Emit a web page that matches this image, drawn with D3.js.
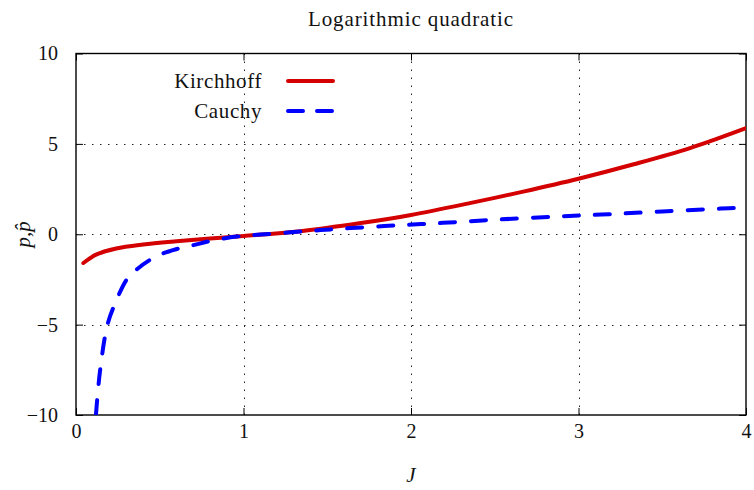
<!DOCTYPE html>
<html>
<head>
<meta charset="utf-8">
<script src="https://cdn.jsdelivr.net/npm/d3@7"></script>
<style>
  html, body { margin: 0; padding: 0; background: #fff; }
  svg { display: block; }
  text { font-family: "Liberation Serif", "DejaVu Serif", serif; fill: #111; }
</style>
</head>
<body>
<div id="chart"></div>
<script>
// values
const xTicks = [0, 1, 2, 3, 4];
const yTicks = [-10, -5, 0, 5, 10];
const gridX = [1, 2, 3];
const gridY = [-5, 0, 5];

const jKirchhoff = [0.044, 0.12, 0.24, 0.4, 0.6, 0.8, 1.0, 1.34, 1.7, 2.0, 2.33, 2.67, 3.0, 3.33, 3.67, 4.0];
const pKirchhoff = [-1.59, -1.13, -0.79, -0.57, -0.39, -0.24, -0.1, 0.17, 0.62, 1.07, 1.68, 2.36, 3.07, 3.87, 4.78, 5.87];

const jCauchy = [0.119, 0.143, 0.187, 0.233, 0.303, 0.358, 0.438, 0.517, 0.597, 0.697, 0.8, 0.96, 1.1, 1.28, 1.46, 1.64, 1.84, 2.01, 2.19, 2.51, 2.87, 3.18, 3.5, 3.85, 4.0];
const pCauchy = [-10, -7.6, -5.04, -3.84, -2.5, -1.98, -1.44, -1.07, -0.83, -0.61, -0.38, -0.13, -0.02, 0.11, 0.23, 0.34, 0.45, 0.54, 0.63, 0.81, 0.98, 1.11, 1.26, 1.42, 1.48];

const series = [
  { name: 'Kirchhoff', xs: jKirchhoff, ys: pKirchhoff, color: '#d40000', dash: null },
  { name: 'Cauchy', xs: jCauchy, ys: pCauchy, color: '#0000ff', dash: '15 16' }
];

const width = 754, height = 490;
const margin = { top: 53.5, right: 8, bottom: 75, left: 76 };

const svg = d3.select('#chart').append('svg')
  .attr('width', width)
  .attr('height', height);

const x = d3.scaleLinear().domain([0, 4]).range([margin.left, width - margin.right]);
const y = d3.scaleLinear().domain([-10, 10]).range([height - margin.bottom, margin.top]);

const x0 = x.range()[0], x1 = x.range()[1];
const y0 = y.range()[1], y1 = y.range()[0];

svg.append('defs').append('clipPath').attr('id', 'plotClip')
  .append('rect')
  .attr('x', x0).attr('y', y0)
  .attr('width', x1 - x0).attr('height', y1 - y0);

// grid
const grid = svg.append('g')
  .attr('stroke', '#222')
  .attr('stroke-width', 1)
  .attr('stroke-dasharray', '1.5 6.5');

grid.selectAll('line.gx')
  .data(gridX)
  .join('line')
  .attr('class', 'gx')
  .attr('x1', d => Math.round(x(d)) + 0.5).attr('x2', d => Math.round(x(d)) + 0.5)
  .attr('y1', y0).attr('y2', y1);

grid.selectAll('line.gy')
  .data(gridY)
  .join('line')
  .attr('class', 'gy')
  .attr('y1', d => Math.round(y(d)) + 0.5).attr('y2', d => Math.round(y(d)) + 0.5)
  .attr('x1', x0).attr('x2', x1);

// axes (inward ticks, mirrored)
const tickLen = 7;
const fmt = d => d < 0 ? '\u2212' + Math.abs(d) : String(d);

svg.append('g')
  .attr('transform', `translate(0,${y1})`)
  .call(d3.axisBottom(x).tickValues(xTicks).tickSize(-tickLen).tickPadding(9).tickFormat(fmt))
  .call(g => g.select('.domain').remove())
  .call(g => g.selectAll('text').attr('font-size', 20).attr('font-family', null));

svg.append('g')
  .attr('transform', `translate(0,${y0})`)
  .call(d3.axisTop(x).tickValues(xTicks).tickSize(-tickLen).tickFormat(''))
  .call(g => g.select('.domain').remove());

svg.append('g')
  .attr('transform', `translate(${x0},0)`)
  .call(d3.axisLeft(y).tickValues(yTicks).tickSize(-tickLen).tickPadding(18).tickFormat(fmt))
  .call(g => g.select('.domain').remove())
  .call(g => g.selectAll('text').attr('font-size', 20).attr('font-family', null));

svg.append('g')
  .attr('transform', `translate(${x1},0)`)
  .call(d3.axisRight(y).tickValues(yTicks).tickSize(-tickLen).tickFormat(''))
  .call(g => g.select('.domain').remove());

svg.append('rect')
  .attr('x', x0).attr('y', y0)
  .attr('width', x1 - x0).attr('height', y1 - y0)
  .attr('fill', 'none')
  .attr('stroke', '#000')
  .attr('stroke-width', 1.4);

// curves
const line = d3.line()
  .x(d => x(d[0]))
  .y(d => y(d[1]))
  .curve(d3.curveCatmullRom.alpha(0.5));

svg.append('g')
  .attr('clip-path', 'url(#plotClip)')
  .selectAll('path')
  .data(series)
  .join('path')
  .attr('d', s => line(s.xs.map((v, i) => [v, s.ys[i]])))
  .attr('fill', 'none')
  .attr('stroke', s => s.color)
  .attr('stroke-width', 4)
  .attr('stroke-linecap', 'round')
  .attr('stroke-dasharray', s => s.dash);

// legend
const legend = svg.append('g');
series.forEach((s, i) => {
  const ly = 81 + i * 30;
  legend.append('text')
    .attr('x', 262).attr('y', ly)
    .attr('dy', '0.33em')
    .attr('text-anchor', 'end')
    .attr('font-size', 21)
    .attr('letter-spacing', 0.6)
    .text(s.name);
  legend.append('line')
    .attr('x1', 288).attr('x2', 333)
    .attr('y1', ly).attr('y2', ly)
    .attr('stroke', s.color)
    .attr('stroke-width', 4)
    .attr('stroke-linecap', 'round')
    .attr('stroke-dasharray', s.dash ? '15 14' : null);
});

// titles
svg.append('text')
  .attr('x', (x0 + x1) / 2).attr('y', 26)
  .attr('text-anchor', 'middle')
  .attr('font-size', 21)
  .attr('letter-spacing', 0.9)
  .text('Logarithmic quadratic');

svg.append('text')
  .attr('x', (x0 + x1) / 2).attr('y', 482)
  .attr('text-anchor', 'middle')
  .attr('font-size', 21)
  .attr('font-style', 'italic')
  .text('J');

svg.append('text')
  .attr('transform', `translate(30,${(y0 + y1) / 2}) rotate(-90)`)
  .attr('text-anchor', 'middle')
  .attr('font-size', 21)
  .attr('font-style', 'italic')
  .text('p,p\u0302');
</script>
</body>
</html>
